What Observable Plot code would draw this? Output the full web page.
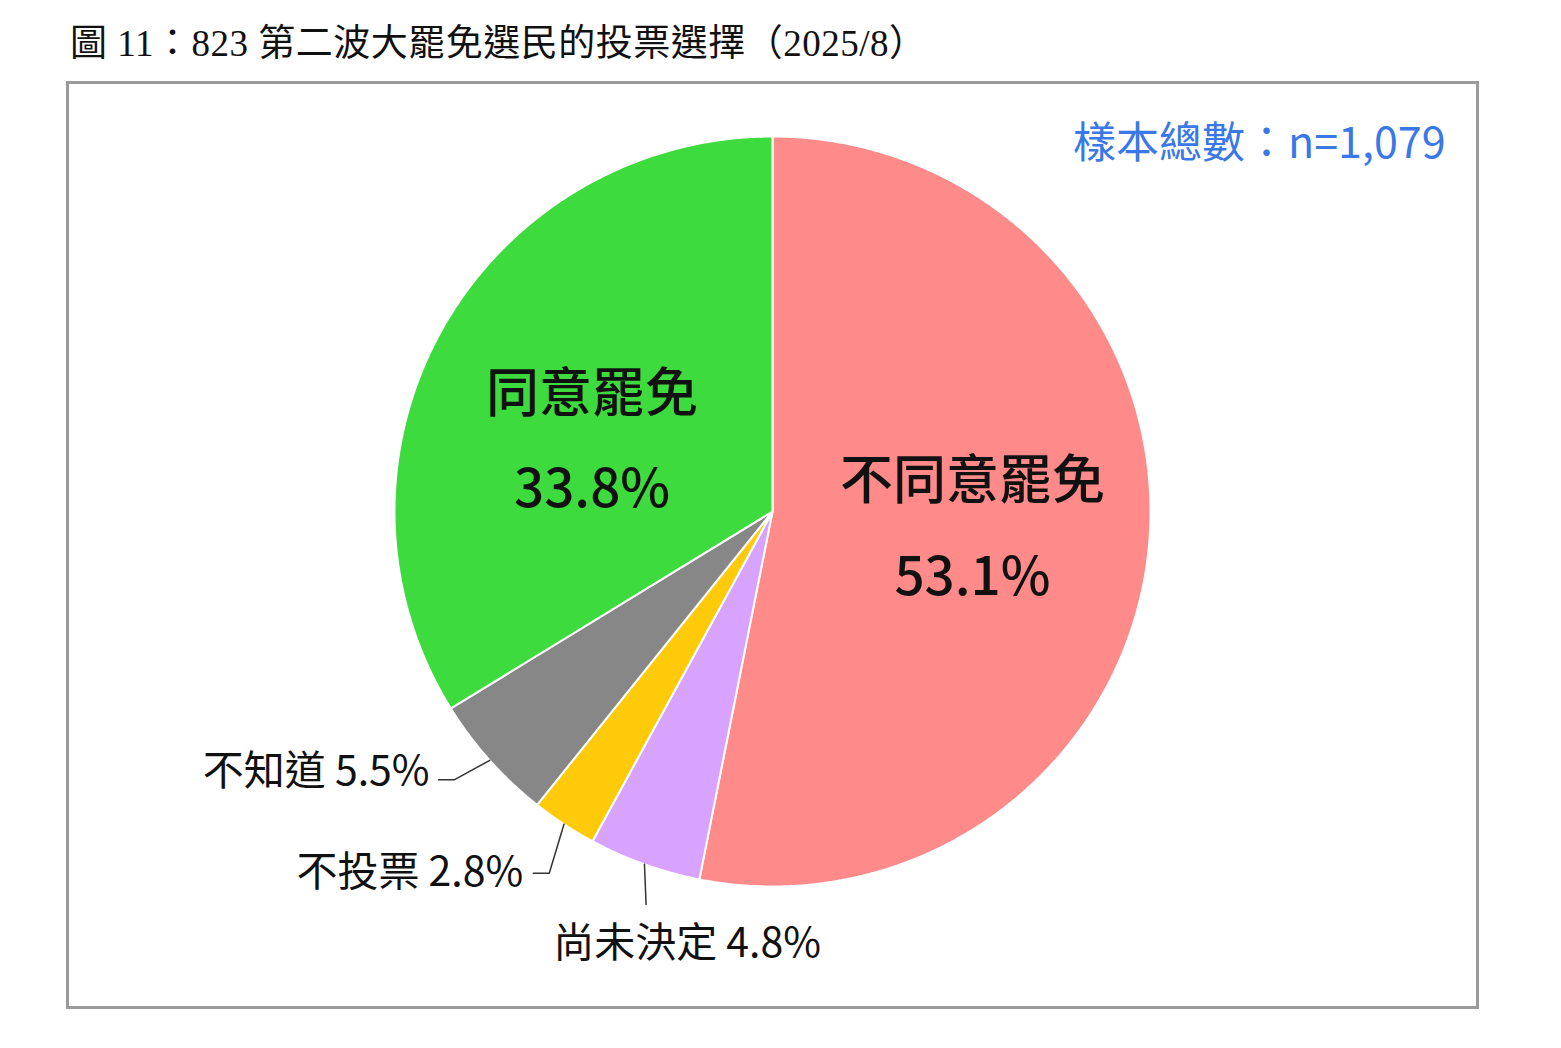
<!DOCTYPE html>
<html><head><meta charset="utf-8">
<script src="https://cdn.jsdelivr.net/npm/d3@7"></script>
<script src="https://cdn.jsdelivr.net/npm/@observablehq/plot@0.6"></script>
<style>
body{margin:0;background:#fff;width:1561px;height:1048px;position:relative;overflow:hidden}
#title{position:absolute;left:70px;top:22px;font-family:"Liberation Serif","Noto Sans CJK TC",serif;font-size:37px;letter-spacing:0.5px;line-height:44px;color:#111;white-space:nowrap}
#frame{position:absolute;left:66px;top:81px;width:1407px;height:922px;border:3px solid #9b9b9b;background:#fff}
#frame svg{display:block}
</style></head><body>
<div id="title"></div>
<div id="frame"></div>
<script>
// ---- data ----
const titleText = "圖 11：823 第二波大罷免選民的投票選擇（2025/8）";
const categories = ["不同意罷免", "尚未決定", "不投票", "不知道", "同意罷免"];
const values = [53.1, 4.8, 2.8, 5.5, 33.8];
const colors = ["#FF8A8A", "#D7A3FF", "#FFCA0A", "#878787", "#3DDB3D"];
const sampleLabel = "樣本總數：n=1,079";
const insideCategories = ["不同意罷免", "同意罷免"];
const outsideCategories = ["尚未決定", "不投票", "不知道"];

// ---- layout ----
const W = 1407, H = 922, CX = 703, CY = 427, RX = 378, RY = 375;
const FONT = '"Noto Sans CJK TC","Noto Sans",sans-serif';
const deg = Math.PI / 180;
const insideLayout = {
  "不同意罷免": {r: 0.531, shift: -0.7},
  "同意罷免": {r: 0.513, shift: -7.7}
};
const outsideLayout = {
  "不知道": {elbowR: 1.104, shift: 1.2, tail: 16, dx: -9, dy: -8, anchor: "end"},
  "不投票": {elbowR: 1.131, shift: -2.0, tail: 16, dx: -10, dy: 0, anchor: "end"},
  "尚未決定": {elbowR: 1.100, shift: -2.1, tail: 0, dx: 41, dy: 39, anchor: "middle"}
};

document.getElementById("title").textContent = titleText;

const fmt = d3.format(".1f");
const rows = categories.map((c, i) => ({category: c, value: values[i]}));
const arcs = d3.pie().sort(null).value(d => d.value)(rows);
const polar = (a, r) => [r * Math.sin(a), r * Math.cos(a)];

// slice polygons
const slicePts = [];
for (const s of arcs) {
  const c = s.data.category;
  const n = Math.max(2, Math.ceil((s.endAngle - s.startAngle) / (0.4 * deg)));
  slicePts.push({category: c, x: 0, y: 0});
  for (let k = 0; k <= n; k++) {
    const a = s.startAngle + (s.endAngle - s.startAngle) * k / n;
    const [x, y] = polar(a, 1);
    slicePts.push({category: c, x, y});
  }
  slicePts.push({category: c, x: 0, y: 0});
}

const mid = s => (s.startAngle + s.endAngle) / 2;

// inside labels
const insideLabels = arcs.filter(s => insideCategories.includes(s.data.category)).map(s => {
  const L = insideLayout[s.data.category];
  const [x, y] = polar(mid(s) + L.shift * deg, L.r);
  return {x, y, text: `${s.data.category}\n${fmt(s.data.value)}%`};
});

// outside labels with leaders
const leaderPts = [];
const outsideLabels = [];
for (const s of arcs.filter(s => outsideCategories.includes(s.data.category))) {
  const c = s.data.category, L = outsideLayout[c];
  const [x0, y0] = polar(mid(s), 1);
  const [x1, y1] = polar(mid(s) + L.shift * deg, L.elbowR);
  const x2 = x1 - L.tail / RX;
  leaderPts.push({category: c, x: x0, y: y0}, {category: c, x: x1, y: y1});
  if (L.tail) leaderPts.push({category: c, x: x2, y: y1});
  outsideLabels.push({x: x2, y: y1, text: `${c} ${fmt(s.data.value)}%`, L});
}

const chart = Plot.plot({
  width: W, height: H, margin: 0,
  x: {domain: [-CX / RX, (W - CX) / RX], axis: null},
  y: {domain: [-(H - CY) / RY, CY / RY], axis: null},
  color: {domain: categories, range: colors},
  style: {fontFamily: FONT, background: "#fff", overflow: "visible"},
  marks: [
    Plot.line(slicePts, {x: "x", y: "y", z: "category", fill: "category", stroke: "#fff", strokeWidth: 2, strokeLinejoin: "round", curve: "linear"}),
    Plot.line(leaderPts, {x: "x", y: "y", z: "category", stroke: "#333", strokeWidth: 1.5}),
    Plot.text(insideLabels, {x: "x", y: "y", text: "text", dy: -12, fontSize: 53, lineHeight: 1.8, fontWeight: 500, fill: "#111", fontFamily: FONT}),
    ...outsideLabels.map(d => Plot.text([d], {x: "x", y: "y", text: "text", textAnchor: d.L.anchor, dx: d.L.dx, dy: d.L.dy, fontSize: 41, fill: "#111", fontFamily: FONT})),
    Plot.text([sampleLabel], {frameAnchor: "top-right", text: d => d, dx: -31, dy: 43, lineAnchor: "top", fontSize: 43, fill: "#3A78E8", fontFamily: FONT})
  ]
});
document.getElementById("frame").appendChild(chart);
</script>
</body></html>
